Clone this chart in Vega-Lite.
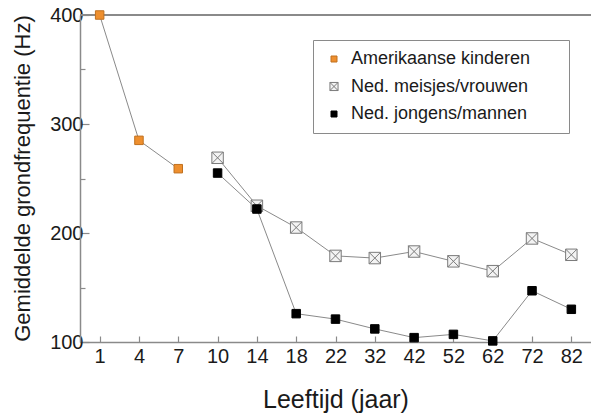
{
  "$schema": "https://vega.github.io/schema/vega-lite/v6.json",
  "width": 511,
  "height": 327,
  "autosize": {"type": "none"},
  "padding": {"left": 80, "top": 15, "right": 0, "bottom": 72},
  "background": "white",
  "config": {
    "view": {"stroke": null},
    "font": "Liberation Sans",
    "axis": {
      "domainColor": "#8a8a8a",
      "domainWidth": 1.5,
      "tickColor": "#8a8a8a",
      "tickWidth": 1.2,
      "labelColor": "#1a1a1a",
      "titleColor": "#1a1a1a",
      "labelFont": "Liberation Sans",
      "titleFont": "Liberation Sans",
      "titleFontWeight": "normal",
      "grid": false
    }
  },
  "data": {
    "values": [
      {"age": 1, "value": 400, "series": "Amerikaanse kinderen"},
      {"age": 4, "value": 285, "series": "Amerikaanse kinderen"},
      {"age": 7, "value": 259, "series": "Amerikaanse kinderen"},
      {"age": 10, "value": 269, "series": "Ned. meisjes/vrouwen"},
      {"age": 14, "value": 225, "series": "Ned. meisjes/vrouwen"},
      {"age": 18, "value": 205, "series": "Ned. meisjes/vrouwen"},
      {"age": 22, "value": 179, "series": "Ned. meisjes/vrouwen"},
      {"age": 32, "value": 177, "series": "Ned. meisjes/vrouwen"},
      {"age": 42, "value": 183, "series": "Ned. meisjes/vrouwen"},
      {"age": 52, "value": 174, "series": "Ned. meisjes/vrouwen"},
      {"age": 62, "value": 165, "series": "Ned. meisjes/vrouwen"},
      {"age": 72, "value": 195, "series": "Ned. meisjes/vrouwen"},
      {"age": 82, "value": 180, "series": "Ned. meisjes/vrouwen"},
      {"age": 10, "value": 255, "series": "Ned. jongens/mannen"},
      {"age": 14, "value": 222, "series": "Ned. jongens/mannen"},
      {"age": 18, "value": 126, "series": "Ned. jongens/mannen"},
      {"age": 22, "value": 121, "series": "Ned. jongens/mannen"},
      {"age": 32, "value": 112, "series": "Ned. jongens/mannen"},
      {"age": 42, "value": 104, "series": "Ned. jongens/mannen"},
      {"age": 52, "value": 107, "series": "Ned. jongens/mannen"},
      {"age": 62, "value": 101, "series": "Ned. jongens/mannen"},
      {"age": 72, "value": 147, "series": "Ned. jongens/mannen"},
      {"age": 82, "value": 130, "series": "Ned. jongens/mannen"}
    ]
  },
  "encoding": {
    "x": {
      "field": "age",
      "type": "ordinal",
      "scale": {"type": "point", "padding": 0.5},
      "axis": {
        "title": "Leeftijd (jaar)",
        "labelAngle": 0,
        "labelFontSize": 20,
        "labelPadding": 10,
        "tickSize": -6,
        "titleFontSize": 25,
        "titleBaseline": "alphabetic",
        "titleY": 65
      }
    },
    "y": {
      "field": "value",
      "type": "quantitative",
      "scale": {"domain": [100, 400], "nice": false, "zero": false},
      "axis": {
        "title": "Gemiddelde grondfrequentie (Hz)",
        "values": [100, 150, 200, 250, 300, 350, 400],
        "labelExpr": "datum.value % 100 === 0 ? datum.label : ''",
        "labelFontSize": 20,
        "labelPadding": 6,
        "tickSize": {"condition": {"test": "datum.value % 100 === 0", "value": -9}, "value": -5},
        "titleFontSize": 22,
        "titleX": -58,
        "titleY": 163,
        "titleBaseline": "middle"
      }
    }
  },
  "layer": [
    {
      "mark": {"type": "rule", "color": "#8a8a8a", "strokeWidth": 1.5},
      "encoding": {"y": {"datum": 400}, "x": null}
    },
    {
      "mark": {"type": "line", "color": "#8a8a8a", "strokeWidth": 1},
      "encoding": {"detail": {"field": "series"}}
    },
    {
      "mark": {"type": "point", "opacity": 1, "strokeWidth": 1, "size": 72},
      "encoding": {
        "shape": {
          "field": "series",
          "type": "nominal",
          "scale": {
            "domain": ["Amerikaanse kinderen", "Ned. meisjes/vrouwen", "Ned. jongens/mannen"],
            "range": ["square", "M-1.35,-1.35L1.35,-1.35L1.35,1.35L-1.35,1.35Z M-1.35,-1.35L1.35,1.35 M1.35,-1.35L-1.35,1.35", "square"]
          },
          "legend": {
            "title": null,
            "orient": "none",
            "legendX": 233,
            "legendY": 25,
            "padding": 10,
            "strokeColor": "#8a8a8a",
            "fillColor": "white",
            "labelFont": "Liberation Sans",
            "labelFontSize": 18,
            "labelColor": "#1a1a1a",
            "labelLimit": 400,
            "labelOffset": 8,
            "symbolOffset": 2,
            "symbolSize": 36,
            "symbolStrokeWidth": 1,
            "rowPadding": 9.5,
            "labelExpr": "datum.label + '\u00a0\u00a0\u00a0\u2800'"
          }
        },
        "fill": {
          "field": "series",
          "type": "nominal",
          "scale": {
            "domain": ["Amerikaanse kinderen", "Ned. meisjes/vrouwen", "Ned. jongens/mannen"],
            "range": ["#ee8f2e", "#f3f3f3", "#000000"]
          },
          "legend": {
            "title": null,
            "orient": "none",
            "legendX": 233,
            "legendY": 25,
            "padding": 10,
            "strokeColor": "#8a8a8a",
            "fillColor": "white",
            "labelFont": "Liberation Sans",
            "labelFontSize": 18,
            "labelColor": "#1a1a1a",
            "labelLimit": 400,
            "labelOffset": 8,
            "symbolOffset": 2,
            "symbolSize": 36,
            "symbolStrokeWidth": 1,
            "rowPadding": 9.5,
            "labelExpr": "datum.label + '\u00a0\u00a0\u00a0\u2800'"
          }
        },
        "stroke": {
          "field": "series",
          "type": "nominal",
          "scale": {
            "domain": ["Amerikaanse kinderen", "Ned. meisjes/vrouwen", "Ned. jongens/mannen"],
            "range": ["#c0701e", "#7a7a7a", "#000000"]
          },
          "legend": {
            "title": null,
            "orient": "none",
            "legendX": 233,
            "legendY": 25,
            "padding": 10,
            "strokeColor": "#8a8a8a",
            "fillColor": "white",
            "labelFont": "Liberation Sans",
            "labelFontSize": 18,
            "labelColor": "#1a1a1a",
            "labelLimit": 400,
            "labelOffset": 8,
            "symbolOffset": 2,
            "symbolSize": 36,
            "symbolStrokeWidth": 1,
            "rowPadding": 9.5,
            "labelExpr": "datum.label + '\u00a0\u00a0\u00a0\u2800'"
          }
        }
      }
    }
  ]
}
